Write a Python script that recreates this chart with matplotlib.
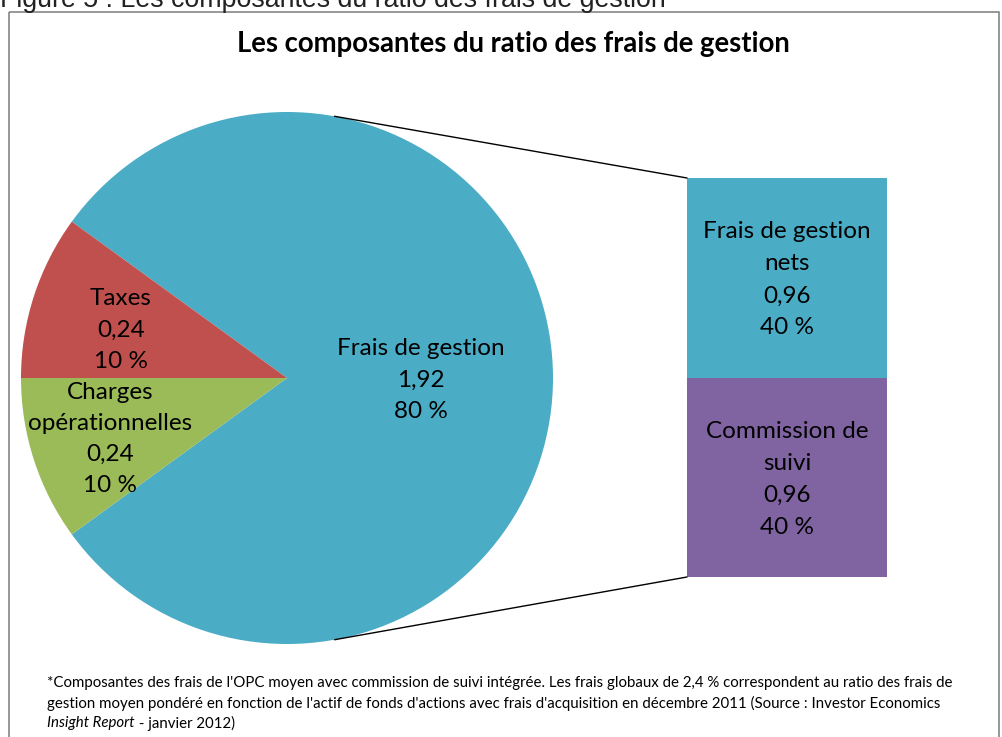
import numpy as np
import matplotlib.pyplot as plt
from matplotlib.patches import Rectangle, ConnectionPatch

# pie data
pie_labels = ['Frais de gestion', 'Taxes', 'Charges\nopérationnelles']
pie_values = [1.92, 0.24, 0.24]
pie_pcts = ['80 %', '10 %', '10 %']
pie_colors = ['#4BACC6', '#C0504D', '#9BBB59']

# bar (detail of "Frais de gestion")
bar_labels = ['Commission de\nsuivi', 'Frais de gestion\nnets']
bar_values = [0.96, 0.96]
bar_pcts = ['40 %', '40 %']
bar_colors = ['#8064A2', '#4BACC6']

title = 'Les composantes du ratio des frais de gestion'
fig_caption = 'Figure 5 : Les composantes du ratio des frais de gestion'
note_lines = ["*Composantes des frais de l'OPC moyen avec commission de suivi intégrée. Les frais globaux de 2,4 % correspondent au ratio des frais de",
              "gestion moyen pondéré en fonction de l'actif de fonds d'actions avec frais d'acquisition en décembre 2011 (Source : Investor Economics"]
note_italic = 'Insight Report'
note_end = ' - janvier 2012)'

W, H = 1003, 737
FONT = ['Lato', 'DejaVu Sans']
LAB_FS = 17.5

def fmt(v):
    return ('%.2f' % v).replace('.', ',')

fig = plt.figure(figsize=(W / 100, H / 100), dpi=100)

# pie axes
cx, cy, r = 287, 378, 266
pie_ax = fig.add_axes([(cx - r) / W, (H - cy - r) / H, 2 * r / W, 2 * r / H])
pie_ax.pie(pie_values, colors=pie_colors, startangle=-144, counterclock=True,
           radius=1, wedgeprops=dict(linewidth=0))
pie_ax.set_xlim(-1, 1)
pie_ax.set_ylim(-1, 1)
pie_ax.set_aspect('equal')
pie_ax.axis('off')

# bar axes
bx0, bx1, by0, by1 = 687, 887, 178, 577
bar_ax = fig.add_axes([bx0 / W, (H - by1) / H, (bx1 - bx0) / W, (by1 - by0) / H])
bottom = 0
for lab, v, p, c in zip(bar_labels, bar_values, bar_pcts, bar_colors):
    bar_ax.bar(0, v, bottom=bottom, width=1, color=c, linewidth=0)
    bar_ax.text(0, bottom + v * 0.5 - 0.01, lab + '\n' + fmt(v) + '\n' + p, fontsize=LAB_FS,
                family=FONT, ha='center', va='center', linespacing=1.65)
    bottom += v
bar_ax.set_xlim(-0.5, 0.5)
bar_ax.set_ylim(0, bottom)
bar_ax.axis('off')

# connector lines
ang = np.deg2rad(79.7)
for sgn, yb in [(1, bottom), (-1, 0)]:
    con = ConnectionPatch(xyA=(np.cos(ang), sgn * np.sin(ang)), coordsA=pie_ax.transData,
                          xyB=(-0.5, yb), coordsB=bar_ax.transData, color='black', lw=1)
    fig.add_artist(con)

# overlay axes in pixel coordinates for texts and frame
bg = fig.add_axes([0, 0, 1, 1])
bg.set_zorder(10)
bg.patch.set_visible(False)
bg.set_xlim(0, W)
bg.set_ylim(H, 0)
bg.axis('off')
bg.add_patch(Rectangle((9, 12), 990, 740, fill=False, edgecolor='#868686', lw=1.2))
bg.text(0, 7, fig_caption, fontsize=19.3, family='Liberation Sans', color='#222222',
        va='baseline', ha='left')
bg.text(513, 44, title, fontsize=19.8, fontweight='bold', family=FONT, ha='center', va='center')

lab_pos = [(421, 380), (121, 330), (110, 439)]
for lab, v, p, (px, py) in zip(pie_labels, pie_values, pie_pcts, lab_pos):
    bg.text(px, py, lab + '\n' + fmt(v) + '\n' + p, fontsize=LAB_FS, family=FONT,
            ha='center', va='center', linespacing=1.6)

for i, line in enumerate(note_lines):
    bg.text(47, 683 + 20 * i, line, fontsize=10.8, family=FONT, ha='left', va='center')
t = bg.text(47, 723, note_italic, fontsize=10.8, family=FONT, style='italic', ha='left', va='center')
fig.canvas.draw()
x_end = t.get_window_extent().x1
bg.annotate(note_end, xy=(x_end, H - 723), xycoords='figure pixels', fontsize=10.8,
            family=FONT, ha='left', va='center')

fig.savefig('out.png', dpi=100)
